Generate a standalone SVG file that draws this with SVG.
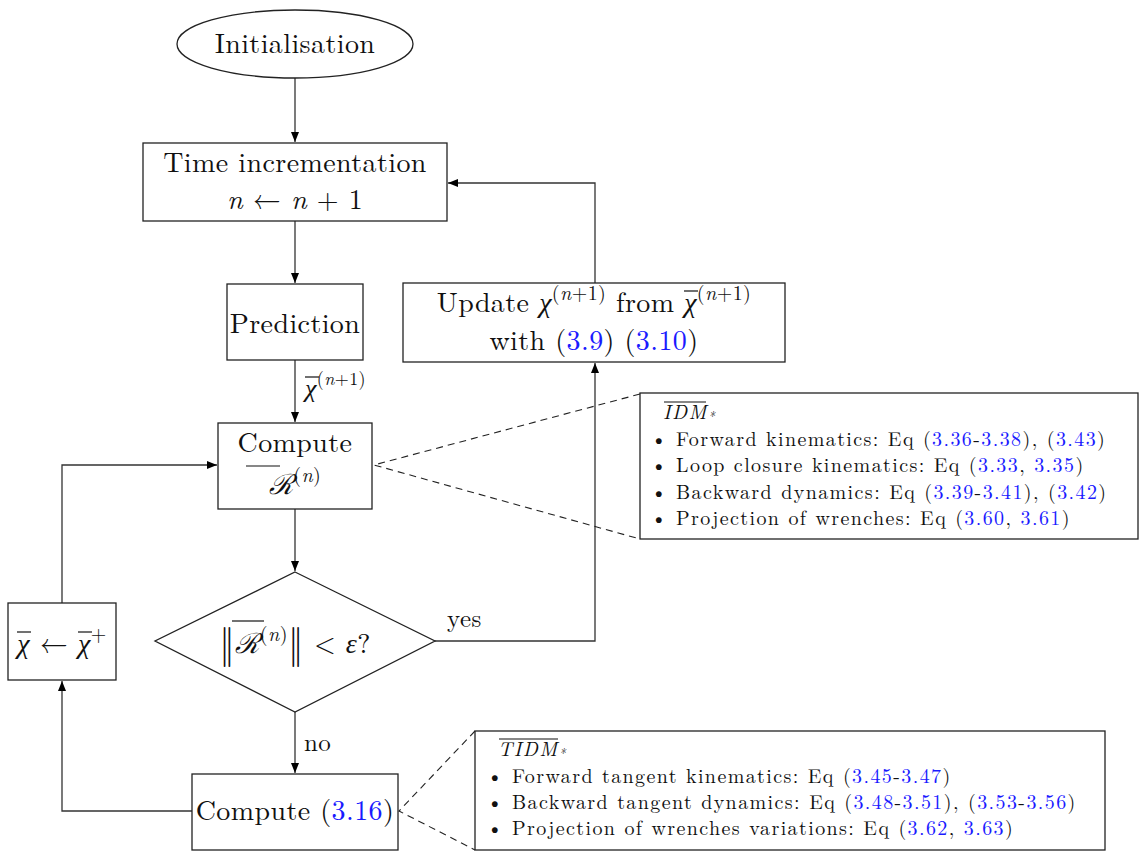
<svg xmlns="http://www.w3.org/2000/svg" width="1143" height="853" viewBox="0 0 1143 853">
<defs>
<marker id="ah" viewBox="0 0 10 10" refX="10" refY="5" markerWidth="10" markerHeight="10" markerUnits="userSpaceOnUse" orient="auto">
<path d="M0,1 L10,5 L0,9 Z" fill="#000"/>
</marker>
<style>
.n{fill:#fff;stroke:#222;stroke-width:1.3}
.t{font-family:"Latin Modern Roman","Liberation Serif","DejaVu Serif",serif;font-size:28px;letter-spacing:0.4px;fill:#111;text-anchor:middle}
.s{font-family:"Latin Modern Roman","Liberation Serif","DejaVu Serif",serif;font-size:20px;letter-spacing:1.4px;fill:#111}
.i{font-style:italic}
.g{font-family:"Liberation Serif","DejaVu Serif",serif;font-style:italic}
.b{fill:#1a1aff}
.c{fill:none;stroke:#333;stroke-width:1.3}
.d{fill:none;stroke:#222;stroke-width:1.1;stroke-dasharray:7,5}
.o{stroke:#111;stroke-width:1.2}
</style>
</defs>
<g id="connectors">
<path class="c" d="M295,78 V142" marker-end="url(#ah)"/>
<path class="c" d="M295,221 V283" marker-end="url(#ah)"/>
<path class="c" d="M295,360 V422" marker-end="url(#ah)"/>
<path class="c" d="M295,509 V571" marker-end="url(#ah)"/>
<path class="c" d="M435,641 H595 V363" marker-end="url(#ah)"/>
<path class="c" d="M595,283 V183 H448" marker-end="url(#ah)"/>
<path class="c" d="M295,712 V773" marker-end="url(#ah)"/>
<path class="c" d="M192,811 H62 V681" marker-end="url(#ah)"/>
<path class="c" d="M62,603 V465 H217" marker-end="url(#ah)"/>
<path class="d" d="M640,394 L374,465 L640,539"/>
<path class="d" d="M475,731 L399,811 L475,850"/>
<text class="t" x="305" y="397" style="text-anchor:start;font-size:26px"><tspan class="g">χ</tspan><tspan dy="-12" font-size="18">(<tspan class="i">n</tspan>+1)</tspan></text>
<line class="o" x1="305" y1="377" x2="319" y2="377"/>
<text class="t" x="447" y="627" style="text-anchor:start;font-size:25px">yes</text>
<text class="t" x="304" y="751" style="text-anchor:start;font-size:25px">no</text>
</g>
<g id="init">
<ellipse class="n" cx="295" cy="44" rx="118" ry="34"/>
<text class="t" x="295" y="53">Initialisation</text>
</g>
<g id="time">
<rect class="n" x="143" y="143" width="304" height="78"/>
<text class="t" x="295" y="172">Time incrementation</text>
<text class="t" x="295" y="209"><tspan class="i">n</tspan> ← <tspan class="i">n</tspan> + 1</text>
</g>
<g id="prediction">
<rect class="n" x="227" y="284" width="136" height="76"/>
<text class="t" x="295" y="333">Prediction</text>
</g>
<g id="update">
<rect class="n" x="403" y="283" width="382" height="79"/>
<text class="t" x="594" y="312">Update <tspan class="g">χ</tspan><tspan dy="-12" font-size="20">(<tspan class="i">n</tspan>+1)</tspan><tspan dy="12"> from </tspan><tspan class="g">χ</tspan><tspan dy="-12" font-size="20">(<tspan class="i">n</tspan>+1)</tspan></text>
<line class="o" x1="684" y1="291" x2="698" y2="291"/>
<text class="t" x="594" y="350">with (<tspan class="b">3.9</tspan>) (<tspan class="b">3.10</tspan>)</text>
</g>
<g id="computeR">
<rect class="n" x="218" y="423" width="154" height="86"/>
<text class="t" x="295" y="494"><tspan class="i">ℛ</tspan><tspan dy="-12" font-size="20">(<tspan class="i">n</tspan>)</tspan></text>
<text class="t" x="295" y="452">Compute</text>
<line class="o" x1="246" y1="466" x2="280" y2="466"/>
</g>
<g id="test">
<polygon class="n" points="295,572 435,641 295,712 155,641"/>
<text class="t" x="295" y="653"><tspan font-size="40" dy="4" fill="#111">‖</tspan><tspan class="i" dy="-4">ℛ</tspan><tspan dy="-12" font-size="20">(<tspan class="i">n</tspan>)</tspan><tspan dy="16" font-size="40" fill="#111">‖</tspan><tspan dy="-4"> &lt; </tspan><tspan class="i">ε</tspan>?</text>
<line class="o" x1="232" y1="621" x2="264" y2="621"/>
</g>
<g id="reset">
<rect class="n" x="8" y="603" width="108" height="77"/>
<text class="t" x="62" y="653"><tspan class="g">χ</tspan> ← <tspan class="g">χ</tspan><tspan dy="-12" font-size="20">+</tspan></text>
<line class="o" x1="17" y1="632" x2="31" y2="632"/>
<line class="o" x1="78" y1="632" x2="92" y2="632"/>
</g>
<g id="compute316">
<rect class="n" x="192" y="774" width="206" height="76"/>
<text class="t" x="295" y="820">Compute (<tspan class="b">3.16</tspan>)</text>
</g>
<g id="idm">
<rect class="n" x="640" y="393" width="498" height="146"/>
<text class="s i" x="663" y="419">IDM<tspan font-size="13" dy="2">*</tspan></text>
<line class="o" x1="664" y1="402" x2="706" y2="402"/>
<text class="s" x="651" y="446">• Forward kinematics: Eq (<tspan class="b">3.36</tspan>-<tspan class="b">3.38</tspan>), (<tspan class="b">3.43</tspan>)</text>
<text class="s" x="651" y="472">• Loop closure kinematics: Eq (<tspan class="b">3.33</tspan>, <tspan class="b">3.35</tspan>)</text>
<text class="s" x="651" y="499">• Backward dynamics: Eq (<tspan class="b">3.39</tspan>-<tspan class="b">3.41</tspan>), (<tspan class="b">3.42</tspan>)</text>
<text class="s" x="651" y="525">• Projection of wrenches: Eq (<tspan class="b">3.60</tspan>, <tspan class="b">3.61</tspan>)</text>
</g>
<g id="tidm">
<rect class="n" x="475" y="731" width="630" height="119"/>
<text class="s i" x="498" y="756">TIDM<tspan font-size="13" dy="2">*</tspan></text>
<line class="o" x1="499" y1="739" x2="558" y2="739"/>
<text class="s" x="487" y="783">• Forward tangent kinematics: Eq (<tspan class="b">3.45</tspan>-<tspan class="b">3.47</tspan>)</text>
<text class="s" x="487" y="809">• Backward tangent dynamics: Eq (<tspan class="b">3.48</tspan>-<tspan class="b">3.51</tspan>), (<tspan class="b">3.53</tspan>-<tspan class="b">3.56</tspan>)</text>
<text class="s" x="487" y="835">• Projection of wrenches variations: Eq (<tspan class="b">3.62</tspan>, <tspan class="b">3.63</tspan>)</text>
</g>
</svg>
